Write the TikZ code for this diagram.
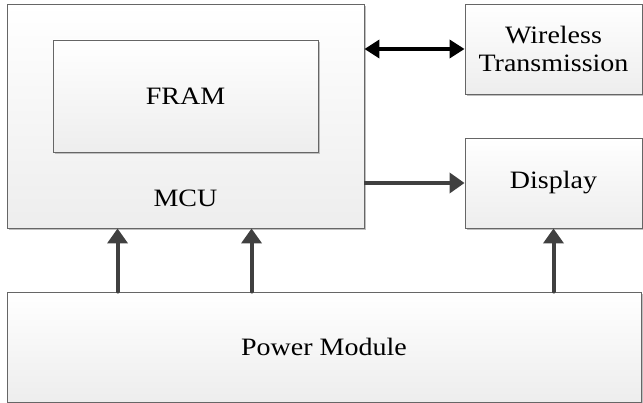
\documentclass[tikz,border=0pt]{standalone}
\usepackage{fontspec}
\setmainfont{Liberation Serif}[FakeStretch=1.12]
\usetikzlibrary{arrows.meta,shadows}

\begin{document}
\begin{tikzpicture}[x=1pt,y=-1pt]
	\tikzset{blockbox/.style={draw=black!60, line width=0.9pt, top color=white, bottom color=black!7,
		drop shadow={shadow xshift=1.6pt, shadow yshift=-1.6pt, fill=black!25, opacity=1},
		inner sep=0pt, align=center, font=\fontsize{25pt}{28pt}\selectfont}}
	\tikzset{blocklabel/.style={inner sep=0pt, font=\fontsize{25pt}{28pt}\selectfont}}
	\tikzset{pwrarrow/.style={draw=black!75, line width=4pt, line cap=round, -{Triangle[length=15pt,width=20pt]}}}
	\tikzset{busarrow/.style={draw=black, line width=3.6pt, {Triangle[length=15pt,width=18pt]}-{Triangle[length=15pt,width=18pt]}}}

	\useasboundingbox (0,0) rectangle (643,403);

	% blocks
	\node[blockbox, minimum width=357pt, minimum height=224pt] (mcu) at (185.5,116) {};
	\node[blocklabel] (mculabel) at (185.5,198) {MCU};
	\node[blockbox, minimum width=265pt, minimum height=112pt] (fram) at (185.5,96) {FRAM};
	\node[blockbox, minimum width=177pt, minimum height=90pt] (wireless) at (553.5,49) {Wireless\\Transmission};
	\node[blockbox, minimum width=177pt, minimum height=90pt] (display) at (553.5,183) {Display};
	\node[blockbox, minimum width=634pt, minimum height=110pt] (power) at (324,347) {Power Module};

	% data
	\draw[busarrow] (mcu.east |- wireless.west) -- (wireless.west);
	\draw[pwrarrow, line cap=butt] (mcu.east |- display.west) -- (display.west);

	% supply
	\coordinate (pin1) at ([xshift=111pt]power.north west);
	\coordinate (pin2) at ([xshift=245pt]power.north west);
	\draw[pwrarrow] (pin1) -- (pin1 |- mcu.south);
	\draw[pwrarrow] (pin2) -- (pin2 |- mcu.south);
	\draw[pwrarrow] (power.north -| display.south) -- (display.south);

\end{tikzpicture}
\end{document}
